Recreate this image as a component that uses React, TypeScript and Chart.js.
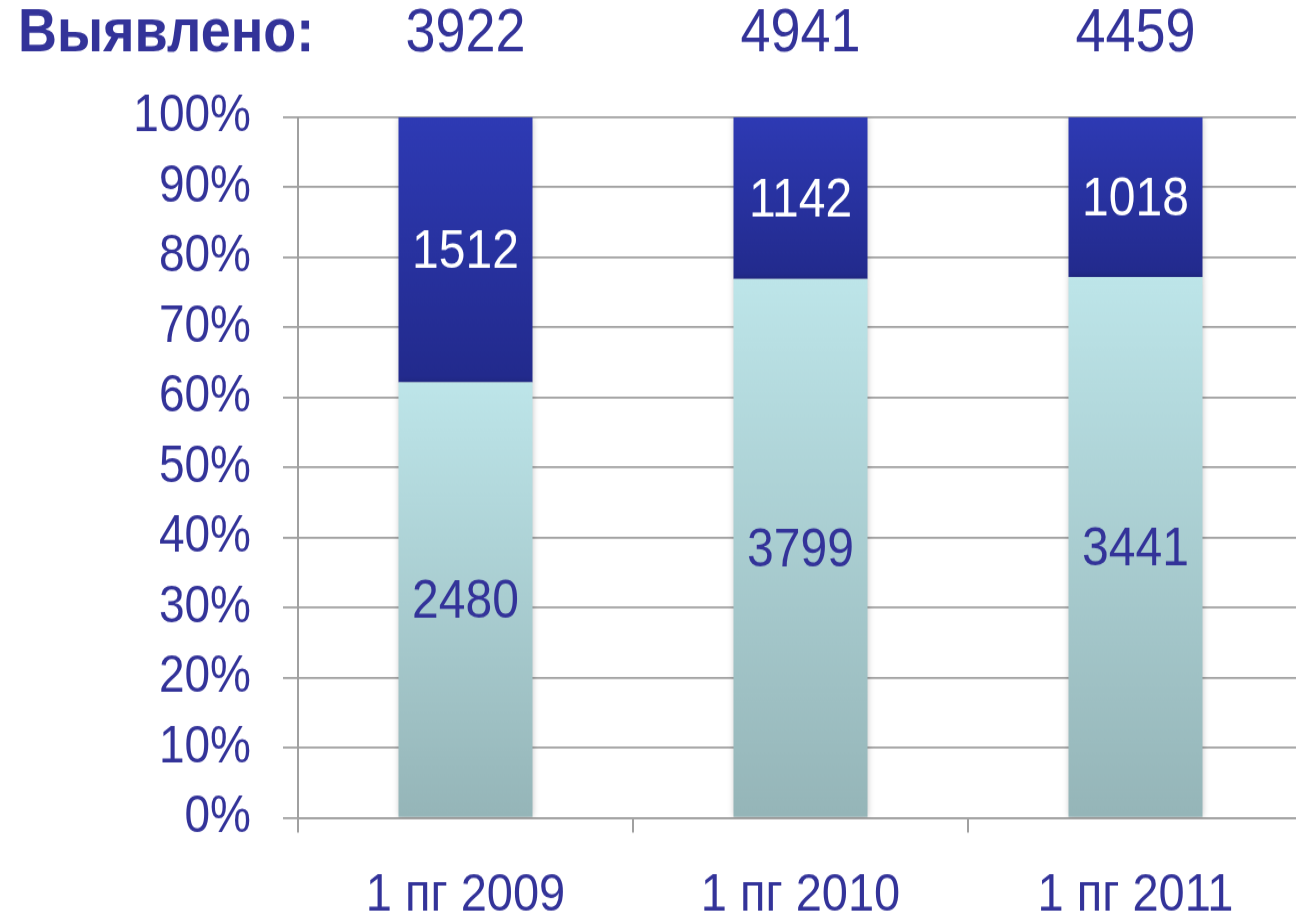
import React, { useEffect, useRef } from "react";
import { Chart, registerables } from "chart.js";

Chart.register(...registerables);

const categories = ["1 пг 2009", "1 пг 2010", "1 пг 2011"];
const lightValues = [2480, 3799, 3441];
const darkValues = [1512, 1142, 1018];
const totals = [3922, 4941, 4459];
const headerLabel = "Выявлено:";
const yTicks = [0, 10, 20, 30, 40, 50, 60, 70, 80, 90, 100];

const FONT = "'Liberation Sans', Arial, sans-serif";
const TEXT = "#333399";

// the reference text is slightly stretched vertically; render at a reduced
// height and stretch the canvas with CSS
const VIEW_W = 1296;
const VIEW_H = 914;
const SY = 1.14;
const CANVAS_W = 1320;
const CANVAS_H = Math.round(VIEW_H / SY);

const sums = lightValues.map((v, i) => v + darkValues[i]);
const lightPct = lightValues.map((v, i) => (v / sums[i]) * 100);
const darkPct = darkValues.map((v, i) => (v / sums[i]) * 100);

function gradientFor(chart: any, fromVal: number, toVal: number, top: string, bottom: string) {
  const y = chart.scales?.y;
  if (!chart.chartArea || !y) return top;
  const y0 = y.getPixelForValue(fromVal);
  const y1 = y.getPixelForValue(toVal);
  const g = chart.ctx.createLinearGradient(0, y0, 0, y1);
  g.addColorStop(0, top);
  g.addColorStop(1, bottom);
  return g;
}

const shadowPlugin = {
  id: "barShadow",
  beforeDatasetDraw(chart: any) {
    const ctx = chart.ctx;
    ctx.save();
    ctx.shadowColor = "rgba(0,0,0,0.22)";
    ctx.shadowBlur = 6;
    ctx.shadowOffsetX = 0;
    ctx.shadowOffsetY = 0;
  },
  afterDatasetDraw(chart: any) {
    chart.ctx.restore();
  },
};

const labelsPlugin = {
  id: "segLabels",
  afterDatasetsDraw(chart: any) {
    const ctx = chart.ctx;
    ctx.save();
    ctx.font = `48px ${FONT}`;
    ctx.textAlign = "center";
    ctx.textBaseline = "middle";
    const sets = [
      { idx: 0, vals: lightValues, color: TEXT },
      { idx: 1, vals: darkValues, color: "#FFFFFF" },
    ];
    sets.forEach((s) => {
      const meta = chart.getDatasetMeta(s.idx);
      meta.data.forEach((bar: any, i: number) => {
        const cy = (bar.y + bar.base) / 2 + 3;
        ctx.fillStyle = s.color;
        ctx.fillText(String(s.vals[i]), bar.x, cy);
      });
    });
    ctx.restore();
  },
  afterDraw(chart: any) {
    const ctx = chart.ctx;
    const x = chart.scales.x;
    const cy = 34 / SY;
    ctx.save();
    ctx.fillStyle = TEXT;
    ctx.textBaseline = "middle";
    ctx.textAlign = "left";
    ctx.font = `bold 54px ${FONT}`;
    ctx.fillText(headerLabel, 18, cy);
    ctx.textAlign = "center";
    ctx.font = `54px ${FONT}`;
    totals.forEach((t, i) => {
      ctx.fillText(String(t), x.getPixelForValue(i), cy);
    });
    ctx.restore();
  },
};

export default function App() {
  const ref = useRef<HTMLCanvasElement | null>(null);
  useEffect(() => {
    if (!ref.current) return;
    const top = 117 / SY;
    const bottom = 818 / SY;
    const chart = new Chart(ref.current, {
      type: "bar",
      data: {
        labels: categories,
        datasets: [
          {
            label: "light",
            data: lightPct,
            backgroundColor: (c: any) =>
              gradientFor(c.chart, lightPct[c.dataIndex] ?? 0, 0, "#BDE5E9", "#95B5B8"),
            borderWidth: 0,
            barPercentage: 0.4,
            categoryPercentage: 1,
          },
          {
            label: "dark",
            data: darkPct,
            backgroundColor: (c: any) =>
              gradientFor(c.chart, 100, lightPct[c.dataIndex] ?? 0, "#2E3AB4", "#222A8C"),
            borderWidth: 0,
            barPercentage: 0.4,
            categoryPercentage: 1,
          },
        ],
      },
      options: {
        responsive: false,
        animation: false,
        layout: { padding: { top: top, right: 17, left: 0, bottom: 0 } },
        plugins: { legend: { display: false }, tooltip: { enabled: false } },
        scales: {
          x: {
            stacked: true,
            grid: {
              offset: true,
              drawOnChartArea: false,
              drawTicks: true,
              tickLength: 13,
              color: "#A0A0A0",
              lineWidth: 2,
            },
            border: { display: true, color: "#A0A0A0", width: 1.8 },
            ticks: {
              color: TEXT,
              font: { family: FONT, size: 47 },
              padding: 27,
              maxRotation: 0,
            },
            afterFit: (s: any) => {
              s.height = CANVAS_H - bottom;
            },
          },
          y: {
            stacked: true,
            min: 0,
            max: 100,
            afterBuildTicks: (s: any) => {
              s.ticks = yTicks.map((v) => ({ value: v }));
            },
            grid: {
              color: "#A0A0A0",
              lineWidth: 1.8,
              tickLength: 15,
              drawTicks: true,
            },
            border: { display: true, color: "#A0A0A0", width: 2 },
            ticks: {
              color: TEXT,
              font: { family: FONT, size: 46 },
              padding: 32,
              callback: (v: any) => `${v}%`,
            },
            afterFit: (s: any) => {
              s.width = 298;
            },
          },
        },
      },
      plugins: [shadowPlugin, labelsPlugin],
    });
    return () => chart.destroy();
  }, []);
  return (
    <div
      style={{
        position: "fixed",
        left: 0,
        top: 0,
        width: VIEW_W,
        height: VIEW_H,
        overflow: "hidden",
        background: "#fff",
      }}
    >
      <canvas
        ref={ref}
        width={CANVAS_W}
        height={CANVAS_H}
        style={{ display: "block", width: CANVAS_W, height: VIEW_H }}
      />
    </div>
  );
}
